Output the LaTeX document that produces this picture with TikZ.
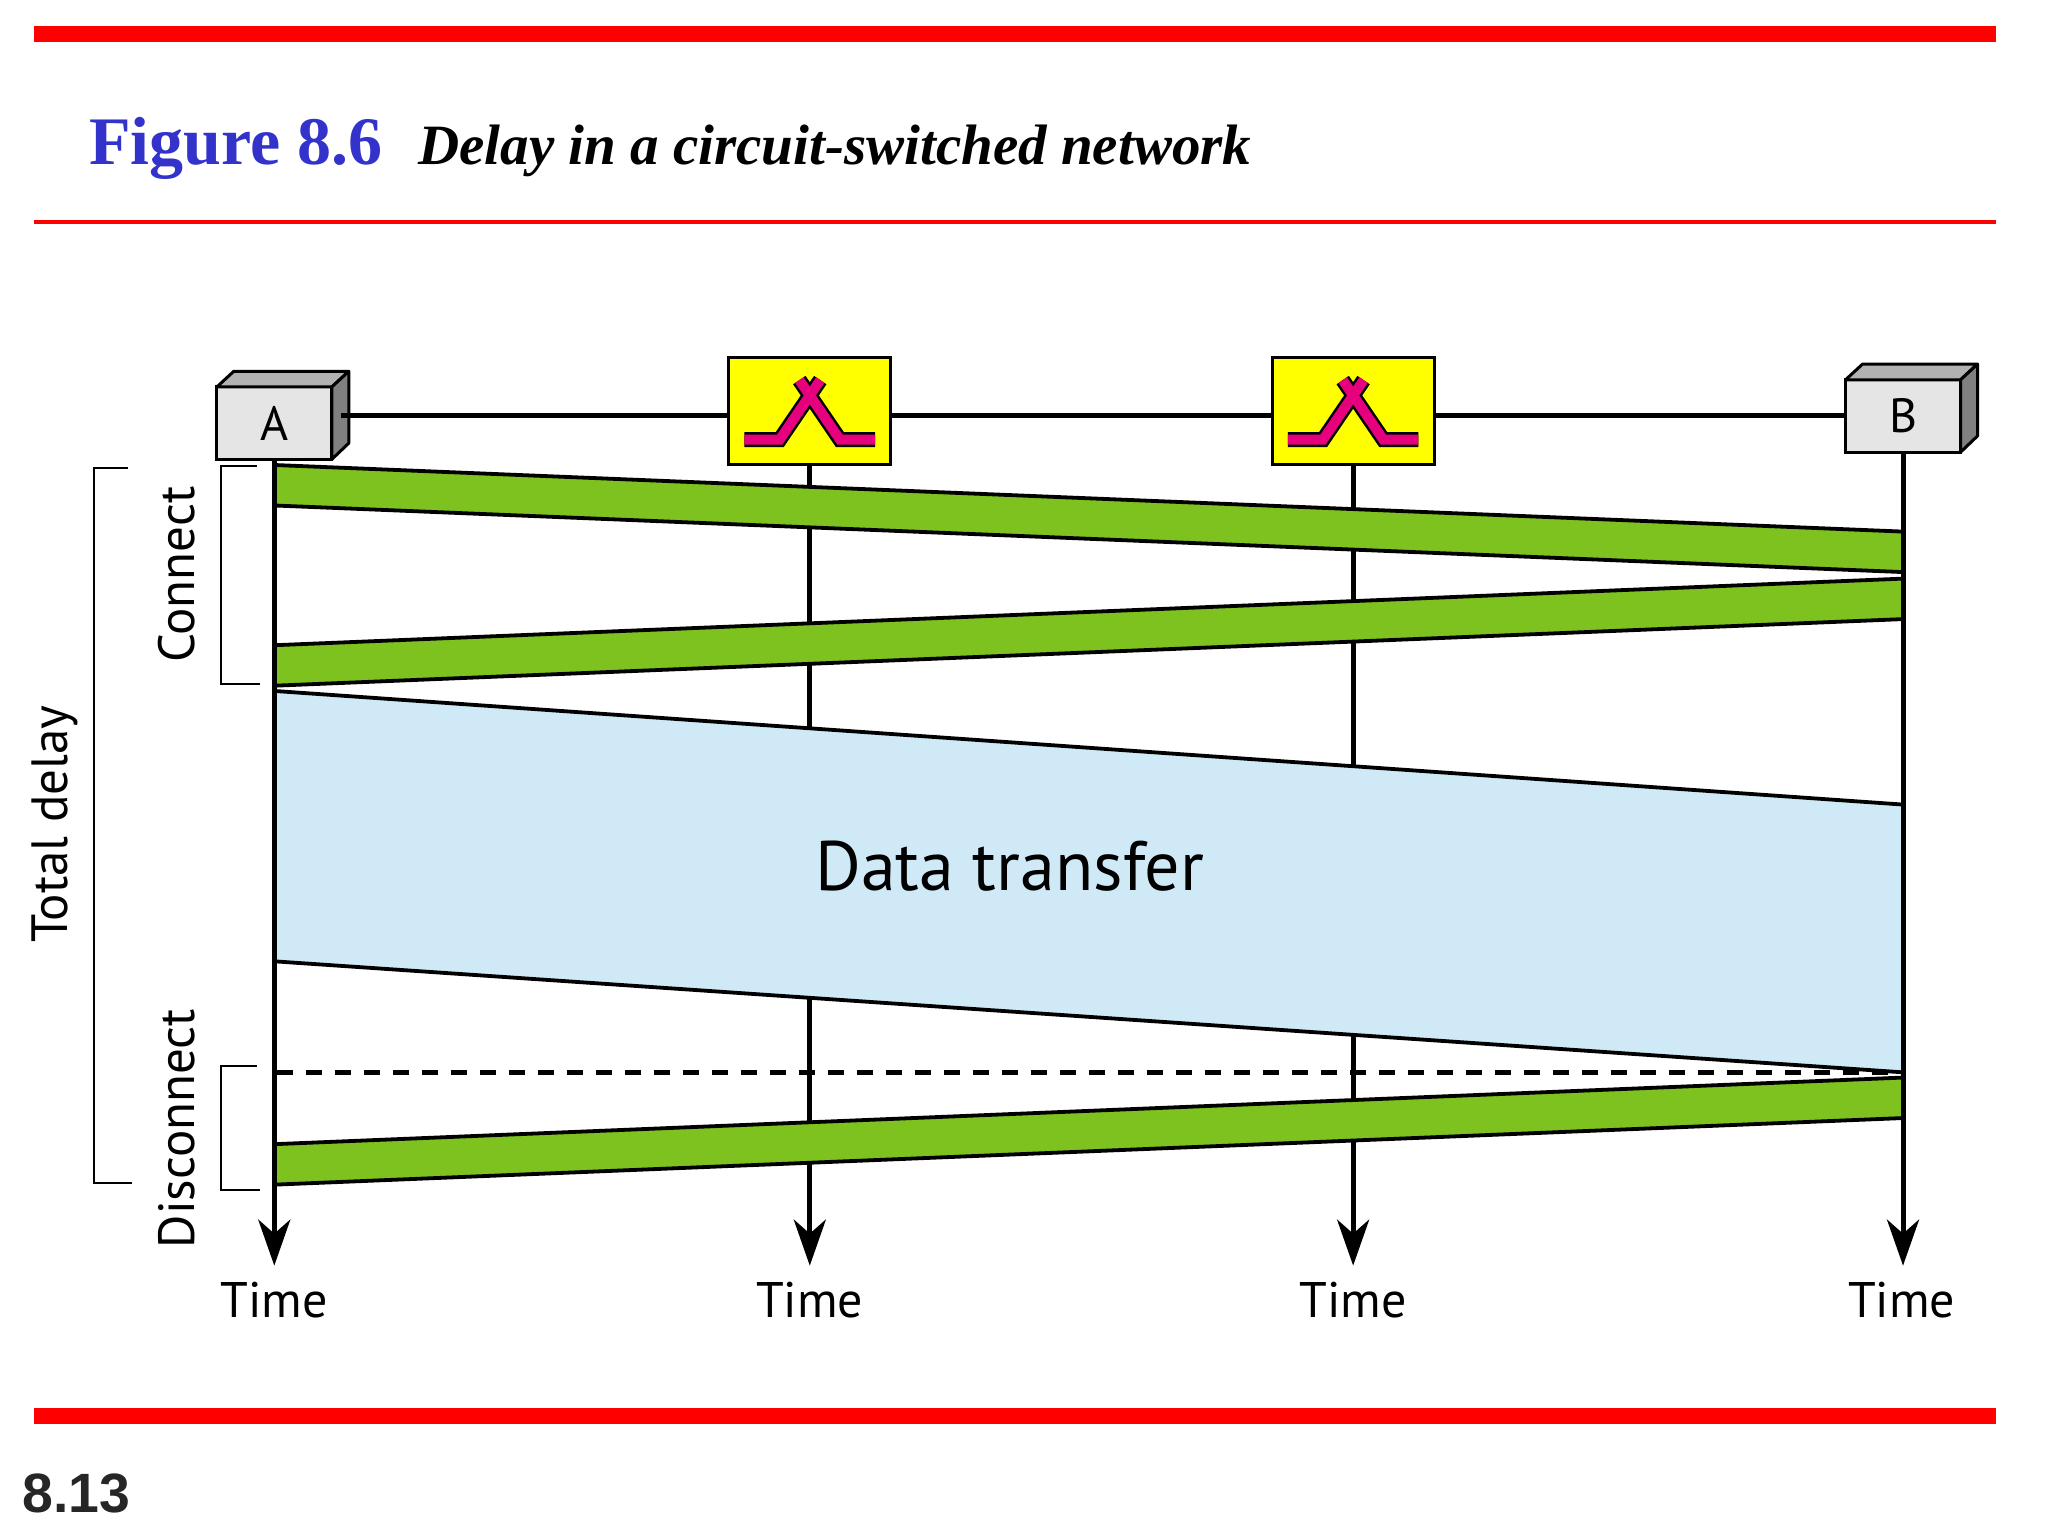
\documentclass[tikz,border=0pt]{standalone}
\usepackage{fontspec}
\setmainfont{Liberation Serif}
\newfontfamily\labelfont{PT Sans}
\newfontfamily\pagefont{Liberation Sans}
\usetikzlibrary{arrows.meta}
\definecolor{bargreen}{HTML}{7DC21E}
\definecolor{datablue}{HTML}{CFEAF6}
\definecolor{swpink}{HTML}{E6007E}
\definecolor{swyellow}{HTML}{FFFF00}
\definecolor{barred}{HTML}{FF0000}
\definecolor{figblue}{HTML}{3333CC}
\begin{document}
\begin{tikzpicture}[x=0.653pt,y=-0.653pt]
    \tikzset{
        hostbox/.style={draw,fill=black!10,line width=1.5pt,inner sep=0pt,outer sep=0pt,minimum width=57.5pt,minimum height=36.2pt,font=\labelfont\fontsize{24}{28}\selectfont},
        switchbox/.style={draw,fill=swyellow,line width=1.5pt,inner sep=0pt,outer sep=0pt,minimum width=81pt,minimum height=53.5pt},
        timeline/.style={line width=2.5pt,-{Stealth[length=23pt,width=16pt,inset=7pt]}},
        timelabel/.style={font=\labelfont\fontsize{25}{30}\selectfont,anchor=base,inner sep=0pt},
        sidelabel/.style={font=\labelfont\fontsize{25.5}{30}\selectfont,rotate=90,anchor=center,inner sep=0pt},
        bracket/.style={line width=1pt},
    }
    \useasboundingbox (0,0) rectangle (1568,1176);
    % red rules
    \fill[barred] (26,20) rectangle (1528,32);
    \fill[barred] (26,168.5) rectangle (1528,171.5);
    \fill[barred] (26,1078) rectangle (1528,1090);
    % title
    \node[anchor=base west,inner sep=0pt,text=figblue] (figno) at (68,126) {\fontsize{34}{40}\selectfont\bfseries Figure 8.6};
    \node[anchor=base west,inner sep=0pt] (figtitle) at (320,126) {\fontsize{28.5}{34}\selectfont\bfseries\itshape Delay in a circuit-switched network};
    \node[anchor=base west,inner sep=0pt,text=black!85] (pageno) at (17,1158) {\pagefont\fontsize{27.7}{32}\selectfont\bfseries 8.13};
    % stations
    \node[hostbox] (A) at (210,324) {A};
    \node[switchbox] (swa) at (620,315) {};
    \node[switchbox] (swb) at (1036,315) {};
    \node[hostbox] (B) at (1457,318.5) {B};
    \coordinate (row) at (0,318);
    \coordinate (endA) at (210,969);
    \coordinate (enda) at (620,969);
    \coordinate (endb) at (1036,969);
    \coordinate (endB) at (1457,969);
    % 3d faces of the hosts
    \foreach \h in {A,B}{
        \draw[fill=black!30,line width=1.5pt,line join=round] (\h.north west) -- ++(13,-12) -- ++(88,0) -- (\h.north east) -- cycle;
        \draw[fill=black!50,line width=1.5pt,line join=round] (\h.north east) -- ++(13,-12) -- ++(0,55) -- (\h.south east) -- cycle;
    }
    % link
    \draw[line width=2.5pt] (A.east |- row) ++(7,0) -- (swa.west |- row);
    \draw[line width=2.5pt] (swa.east |- row) -- (swb.west |- row);
    \draw[line width=2.5pt] (swb.east |- row) -- (B.west |- row);
    % switch symbol
    \def\swleft{(-50,21.5) -- (-23,21.5) -- (8,-24)}
    \def\swright{(50,21.5) -- (23,21.5) -- (-8,-24)}
    \foreach \sw in {swa,swb}{
        \begin{scope}[shift={(\sw.center)}]
            \draw[line width=7.5pt] \swleft;
            \draw[line width=7.5pt] \swright;
            \draw[line width=5pt,swpink] \swleft;
            \draw[line width=5pt,swpink] \swright;
        \end{scope}
    }
    % middle time lines go under the bands
    \draw[timeline] (swa.south) -- (enda);
    \draw[timeline] (swb.south) -- (endb);
    % data
    \fill[datablue] (210,529) -- (1457,616) -- (1457,821) -- (210,736) -- cycle;
    \draw[line width=1.9pt] (210,529) -- (1457,616);
    \draw[line width=1.9pt] (210,736) -- (1457,821);
    \draw[line width=2.3pt,dash pattern=on 8pt off 6.5pt] (212,821) -- (1457,821);
    % setup and teardown
    \foreach \a/\b/\c/\d in {356/387/407/438,494/525/443/474,876/907/825/856}{
        \fill[bargreen] (210,\a) -- (1457,\c) -- (1457,\d) -- (210,\b) -- cycle;
        \draw[line width=1.9pt] (210,\a) -- (1457,\c);
        \draw[line width=1.9pt] (210,\b) -- (1457,\d);
    }
    \draw[timeline] (A.south) -- (endA);
    \draw[timeline] (B.south) -- (endB);
    \node[anchor=base,inner sep=0pt,font=\labelfont\fontsize{35}{42}\selectfont] (data) at (773,682) {Data transfer};
    % brackets
    \draw[bracket] (98,358) -| (72,906) -- (101,906);
    \draw[bracket] (197,357) -| (169,524) -- (199,524);
    \draw[bracket] (197,816) -| (169,911) -- (199,911);
    \node[sidelabel] (total) at (42,631) {Total delay};
    \node[sidelabel] (connect) at (135,440) {Connect};
    \node[sidelabel] (disconnect) at (135,864) {Disconnect};
    % time labels
    \foreach \p/\n in {210/tA,620/ta,1036/tb,1456/tB}{
        \node[timelabel] (\n) at (\p,1009) {Time};
    }
\end{tikzpicture}
\end{document}
